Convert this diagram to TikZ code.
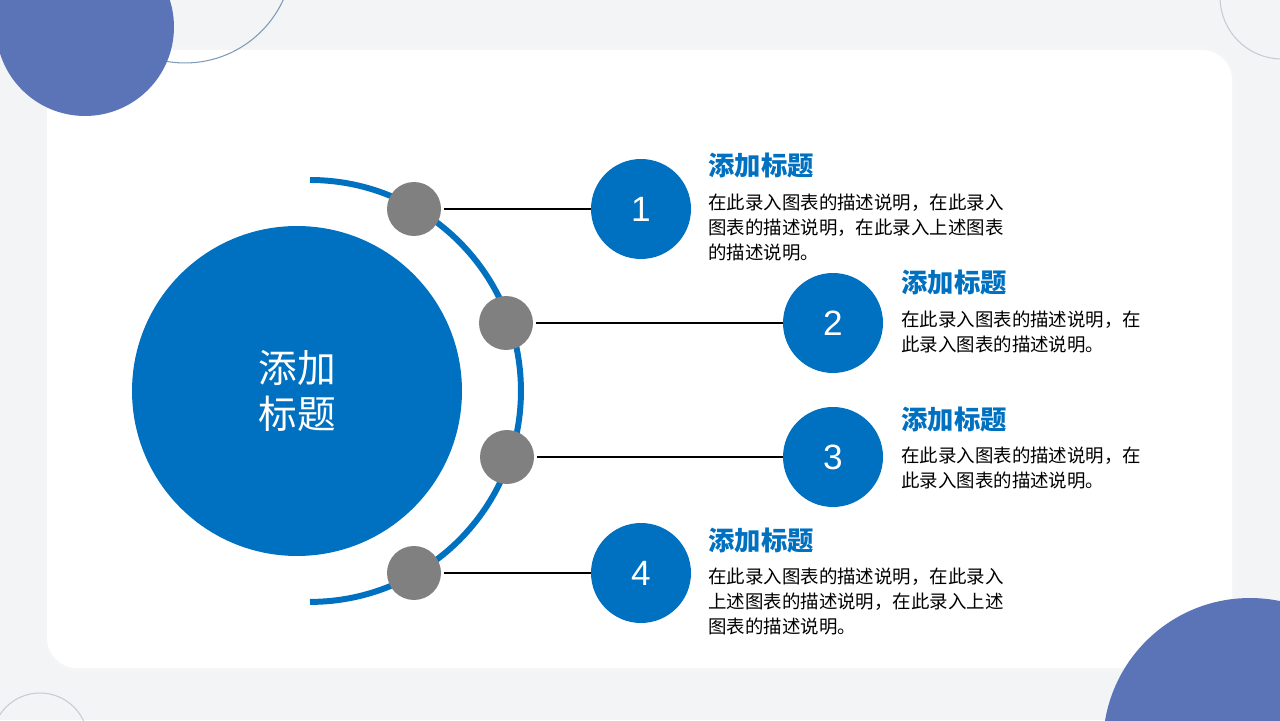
\documentclass[tikz,border=0pt]{standalone}
\usepackage{fontspec}
\setmainfont{Noto Sans CJK SC}
\newfontfamily\numfont{Liberation Sans}
\usetikzlibrary{positioning}
\definecolor{mainblue}{HTML}{0070C0}
\definecolor{dotgrey}{HTML}{808080}
\definecolor{decoblue}{HTML}{5B73B7}
\definecolor{bggrey}{HTML}{F2F4F6}
\definecolor{ringgrey}{HTML}{C5CCD6}
\definecolor{ringblue}{HTML}{7F9AB5}

\begin{document}
\begin{tikzpicture}[x=0.02cm, y=0.02cm,
  dot/.style={circle, fill=dotgrey, minimum size=1.08cm, inner sep=0pt},
  num/.style={circle, fill=mainblue, minimum size=2cm, inner sep=0pt, text=white, font=\numfont\fontsize{20pt}{20pt}\selectfont},
  head/.style={anchor=west, inner sep=0pt, text=mainblue, font=\bfseries\fontsize{15pt}{15pt}\selectfont},
  desc/.style={anchor=north west, inner sep=0pt, align=left, font=\fontsize{10.5pt}{14.2pt}\selectfont},
  link/.style={line width=1.5pt}]
\useasboundingbox (0,0) rectangle (1280,720);
\clip (0,0) rectangle (1280,720);

% background and panel
\fill[bggrey] (0,0) rectangle (1280,720);
\fill[black!4, rounded corners=0.7cm] (43,48) rectangle (1236,674);
\fill[white, rounded corners=0.6cm] (47,52) rectangle (1232,670);

% corner decorations
\draw[ringblue, line width=0.6pt] (185,765) circle[radius=2.16cm];
\fill[decoblue] (85,693) circle[radius=1.78cm];
\draw[ringgrey, line width=0.6pt] (1282,723) circle[radius=1.24cm];
\fill[decoblue] (1250,-25) circle[radius=2.94cm];
\draw[ringgrey, line width=0.6pt] (40,-21) circle[radius=0.96cm];

% centre circle and arc
\node (main) [circle, fill=mainblue, minimum size=6.6cm, text=white, align=center,
  font=\fontsize{22pt}{26pt}\selectfont] at (297,329) {添加\\标题};
\draw[mainblue, line width=3.4pt] (310,540) arc[start angle=90, end angle=-90, radius=4.22cm];

\node (d1) [dot] at (414,511) {};
\node (d2) [dot] at (506,397) {};
\node (d3) [dot] at (507,263) {};
\node (d4) [dot] at (414,147) {};

\node (n1) [num] at (641,511) {1};
\node (n2) [num] at (833,397) {2};
\node (n3) [num] at (833,263) {3};
\node (n4) [num] at (641,147) {4};

\draw[link] ([xshift=1.5pt]d1.east) -- (n1);
\draw[link] ([xshift=1.5pt]d2.east) -- (n2);
\draw[link] ([xshift=1.5pt]d3.east) -- (n3);
\draw[link] ([xshift=1.5pt]d4.east) -- (n4);

% titles and texts
\node (t1) [head] at (708,554) {添加标题};
\node (s1) [desc, below=0.3cm of t1.south west, anchor=north west] {在此录入图表的描述说明，在此录入\\图表的描述说明，在此录入上述图表\\的描述说明。};
\node (t2) [head] at (901,437) {添加标题};
\node (s2) [desc, below=0.3cm of t2.south west, anchor=north west] {在此录入图表的描述说明，在\\此录入图表的描述说明。};
\node (t3) [head] at (901,301) {添加标题};
\node (s3) [desc, below=0.3cm of t3.south west, anchor=north west] {在此录入图表的描述说明，在\\此录入图表的描述说明。};
\node (t4) [head] at (708,180) {添加标题};
\node (s4) [desc, below=0.3cm of t4.south west, anchor=north west] {在此录入图表的描述说明，在此录入\\上述图表的描述说明，在此录入上述\\图表的描述说明。};
\end{tikzpicture}
\end{document}
